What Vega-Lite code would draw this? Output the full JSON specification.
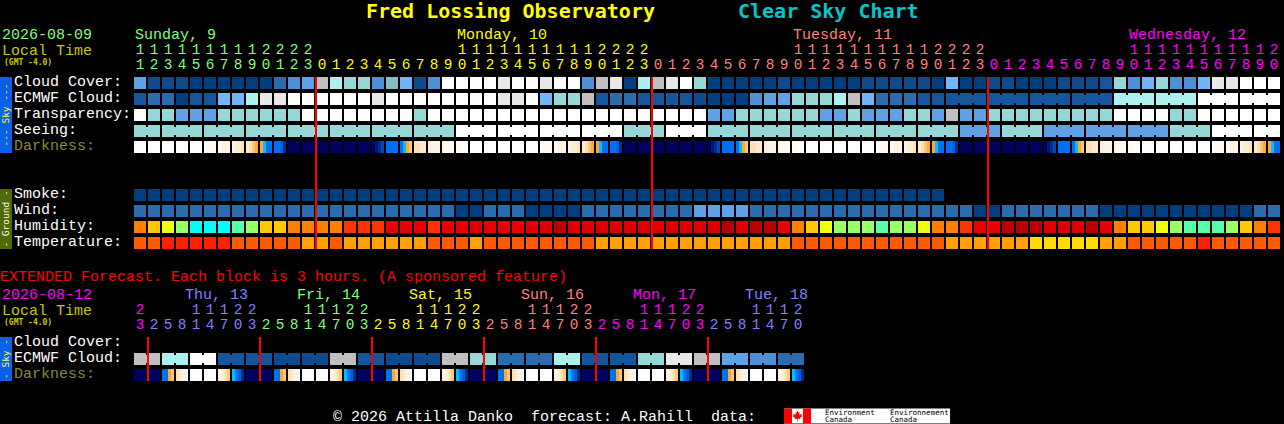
{
"$schema":"https://vega.github.io/schema/vega-lite/v6.json",
"width":1284,"height":424,"autosize":"none","padding":0,"background":"#000000",
"config":{"view":{"stroke":null},"axis":{"disable":true},"legend":{"disable":true},
"text":{"font":"Liberation Mono","fontSize":15,"baseline":"middle","align":"left"}},
"datasets":{
"cells":[
{"r":"cloud","c":0,"t":"c5"},{"r":"cloud","c":1,"t":"c1"},{"r":"cloud","c":2,"t":"c1"},{"r":"cloud","c":3,"t":"c1"},{"r":"cloud","c":4,"t":"c0"},{"r":"cloud","c":5,"t":"c0"},{"r":"cloud","c":6,"t":"c0"},{"r":"cloud","c":7,"t":"c0"},{"r":"cloud","c":8,"t":"c0"},{"r":"cloud","c":9,"t":"c0"},{"r":"cloud","c":10,"t":"c3"},{"r":"cloud","c":11,"t":"c4"},{"r":"cloud","c":12,"t":"c5"},{"r":"cloud","c":13,"t":"gray"},{"r":"cloud","c":14,"t":"aqua"},{"r":"cloud","c":15,"t":"teal"},{"r":"cloud","c":16,"t":"teal"},{"r":"cloud","c":17,"t":"c4"},{"r":"cloud","c":18,"t":"teald"},{"r":"cloud","c":19,"t":"c6"},{"r":"cloud","c":20,"t":"c1"},{"r":"cloud","c":21,"t":"c4"},{"r":"cloud","c":22,"t":"white"},{"r":"cloud","c":23,"t":"white"},{"r":"cloud","c":24,"t":"white"},{"r":"cloud","c":25,"t":"white"},{"r":"cloud","c":26,"t":"lgray"},{"r":"cloud","c":27,"t":"white"},{"r":"cloud","c":28,"t":"white"},{"r":"cloud","c":29,"t":"lgray"},{"r":"cloud","c":30,"t":"white"},{"r":"cloud","c":31,"t":"white"},{"r":"cloud","c":32,"t":"c4"},{"r":"cloud","c":33,"t":"gray"},{"r":"cloud","c":34,"t":"lgray"},{"r":"cloud","c":35,"t":"c0"},{"r":"cloud","c":36,"t":"aqua"},{"r":"cloud","c":37,"t":"gray"},{"r":"cloud","c":38,"t":"lgray"},{"r":"cloud","c":39,"t":"white"},{"r":"cloud","c":40,"t":"teal"},{"r":"cloud","c":41,"t":"c0"},{"r":"cloud","c":42,"t":"c0"},{"r":"cloud","c":43,"t":"c0"},{"r":"cloud","c":44,"t":"c0"},{"r":"cloud","c":45,"t":"c0"},{"r":"cloud","c":46,"t":"c1"},{"r":"cloud","c":47,"t":"c0"},{"r":"cloud","c":48,"t":"c0"},{"r":"cloud","c":49,"t":"c0"},{"r":"cloud","c":50,"t":"c0"},{"r":"cloud","c":51,"t":"c0"},{"r":"cloud","c":52,"t":"c1"},{"r":"cloud","c":53,"t":"c1"},{"r":"cloud","c":54,"t":"c1"},{"r":"cloud","c":55,"t":"c1"},{"r":"cloud","c":56,"t":"c1"},{"r":"cloud","c":57,"t":"c0"},{"r":"cloud","c":58,"t":"c6"},{"r":"cloud","c":59,"t":"c0"},{"r":"cloud","c":60,"t":"c0"},{"r":"cloud","c":61,"t":"c1"},{"r":"cloud","c":62,"t":"c1"},{"r":"cloud","c":63,"t":"c0"},{"r":"cloud","c":64,"t":"c0"},{"r":"cloud","c":65,"t":"c0"},{"r":"cloud","c":66,"t":"c1"},{"r":"cloud","c":67,"t":"c1"},{"r":"cloud","c":68,"t":"c1"},{"r":"cloud","c":69,"t":"c2"},{"r":"cloud","c":70,"t":"teal"},{"r":"cloud","c":71,"t":"c4"},{"r":"cloud","c":72,"t":"c6"},{"r":"cloud","c":73,"t":"teal"},{"r":"cloud","c":74,"t":"c4"},{"r":"cloud","c":75,"t":"c4"},{"r":"cloud","c":76,"t":"c6"},{"r":"cloud","c":77,"t":"lgray"},{"r":"cloud","c":78,"t":"lgray"},{"r":"cloud","c":79,"t":"white"},{"r":"cloud","c":80,"t":"white"},{"r":"cloud","c":81,"t":"white"},
{"r":"ecmwf","c":0,"t":"c2"},{"r":"ecmwf","c":1,"t":"c3"},{"r":"ecmwf","c":2,"t":"c3"},{"r":"ecmwf","c":3,"t":"c0"},{"r":"ecmwf","c":4,"t":"c2"},{"r":"ecmwf","c":5,"t":"c2"},{"r":"ecmwf","c":6,"t":"c6"},{"r":"ecmwf","c":7,"t":"c6"},{"r":"ecmwf","c":8,"t":"aqua"},{"r":"ecmwf","c":9,"t":"lgray"},{"r":"ecmwf","c":10,"t":"lgray"},{"r":"ecmwf","c":11,"t":"white"},{"r":"ecmwf","c":12,"t":"white"},{"r":"ecmwf","c":13,"t":"white"},{"r":"ecmwf","c":14,"t":"white"},{"r":"ecmwf","c":15,"t":"white"},{"r":"ecmwf","c":16,"t":"white"},{"r":"ecmwf","c":17,"t":"lgray"},{"r":"ecmwf","c":18,"t":"white"},{"r":"ecmwf","c":19,"t":"white"},{"r":"ecmwf","c":20,"t":"white"},{"r":"ecmwf","c":21,"t":"white"},{"r":"ecmwf","c":22,"t":"white"},{"r":"ecmwf","c":23,"t":"white"},{"r":"ecmwf","c":24,"t":"white"},{"r":"ecmwf","c":25,"t":"white"},{"r":"ecmwf","c":26,"t":"lgray"},{"r":"ecmwf","c":27,"t":"lgray"},{"r":"ecmwf","c":28,"t":"white"},{"r":"ecmwf","c":29,"t":"c6"},{"r":"ecmwf","c":30,"t":"teal"},{"r":"ecmwf","c":31,"t":"teal"},{"r":"ecmwf","c":32,"t":"gray"},{"r":"ecmwf","c":33,"t":"c2"},{"r":"ecmwf","c":34,"t":"c3"},{"r":"ecmwf","c":35,"t":"c3"},{"r":"ecmwf","c":36,"t":"c2"},{"r":"ecmwf","c":37,"t":"c2"},{"r":"ecmwf","c":38,"t":"c2"},{"r":"ecmwf","c":39,"t":"c2"},{"r":"ecmwf","c":40,"t":"c1"},{"r":"ecmwf","c":41,"t":"c0"},{"r":"ecmwf","c":42,"t":"c0"},{"r":"ecmwf","c":43,"t":"c0"},{"r":"ecmwf","c":44,"t":"c4"},{"r":"ecmwf","c":45,"t":"c5"},{"r":"ecmwf","c":46,"t":"c5"},{"r":"ecmwf","c":47,"t":"teal"},{"r":"ecmwf","c":48,"t":"teal"},{"r":"ecmwf","c":49,"t":"teal"},{"r":"ecmwf","c":50,"t":"aqua"},{"r":"ecmwf","c":51,"t":"gray"},{"r":"ecmwf","c":52,"t":"c6"},{"r":"ecmwf","c":53,"t":"c3"},{"r":"ecmwf","c":54,"t":"c3"},{"r":"ecmwf","c":55,"t":"c3"},{"r":"ecmwf","c":56,"t":"c2"},{"r":"ecmwf","c":57,"t":"c2"},{"r":"ecmwf","c":58,"t":"c2","j":1},{"r":"ecmwf","c":59,"t":"c2","j":1},{"r":"ecmwf","c":60,"t":"c2"},{"r":"ecmwf","c":61,"t":"c2","j":1},{"r":"ecmwf","c":62,"t":"c2","j":1},{"r":"ecmwf","c":63,"t":"c2"},{"r":"ecmwf","c":64,"t":"c2","j":1},{"r":"ecmwf","c":65,"t":"c2","j":1},{"r":"ecmwf","c":66,"t":"c2"},{"r":"ecmwf","c":67,"t":"c2","j":1},{"r":"ecmwf","c":68,"t":"c2","j":1},{"r":"ecmwf","c":69,"t":"c2"},{"r":"ecmwf","c":70,"t":"aqua","j":1},{"r":"ecmwf","c":71,"t":"aqua","j":1},{"r":"ecmwf","c":72,"t":"aqua"},{"r":"ecmwf","c":73,"t":"aqua","j":1},{"r":"ecmwf","c":74,"t":"aqua","j":1},{"r":"ecmwf","c":75,"t":"aqua"},{"r":"ecmwf","c":76,"t":"white","j":1},{"r":"ecmwf","c":77,"t":"white","j":1},{"r":"ecmwf","c":78,"t":"white"},{"r":"ecmwf","c":79,"t":"white","j":1},{"r":"ecmwf","c":80,"t":"white","j":1},{"r":"ecmwf","c":81,"t":"white"},
{"r":"transp","c":0,"t":"white"},{"r":"transp","c":1,"t":"teal"},{"r":"transp","c":2,"t":"teal"},{"r":"transp","c":3,"t":"c5"},{"r":"transp","c":4,"t":"c5"},{"r":"transp","c":5,"t":"c5"},{"r":"transp","c":6,"t":"teal"},{"r":"transp","c":7,"t":"teal"},{"r":"transp","c":8,"t":"teal"},{"r":"transp","c":9,"t":"teal"},{"r":"transp","c":10,"t":"teal"},{"r":"transp","c":11,"t":"teal"},{"r":"transp","c":12,"t":"white"},{"r":"transp","c":13,"t":"white"},{"r":"transp","c":14,"t":"white"},{"r":"transp","c":15,"t":"white"},{"r":"transp","c":16,"t":"white"},{"r":"transp","c":17,"t":"white"},{"r":"transp","c":18,"t":"white"},{"r":"transp","c":19,"t":"white"},{"r":"transp","c":20,"t":"teal"},{"r":"transp","c":21,"t":"white"},{"r":"transp","c":22,"t":"white"},{"r":"transp","c":23,"t":"white"},{"r":"transp","c":24,"t":"white"},{"r":"transp","c":25,"t":"white"},{"r":"transp","c":26,"t":"white"},{"r":"transp","c":27,"t":"white"},{"r":"transp","c":28,"t":"white"},{"r":"transp","c":29,"t":"white"},{"r":"transp","c":30,"t":"white"},{"r":"transp","c":31,"t":"white"},{"r":"transp","c":32,"t":"white"},{"r":"transp","c":33,"t":"white"},{"r":"transp","c":34,"t":"white"},{"r":"transp","c":35,"t":"white"},{"r":"transp","c":36,"t":"white"},{"r":"transp","c":37,"t":"white"},{"r":"transp","c":38,"t":"white"},{"r":"transp","c":39,"t":"white"},{"r":"transp","c":40,"t":"white"},{"r":"transp","c":41,"t":"c5"},{"r":"transp","c":42,"t":"c5"},{"r":"transp","c":43,"t":"teal"},{"r":"transp","c":44,"t":"teal"},{"r":"transp","c":45,"t":"teal"},{"r":"transp","c":46,"t":"teal"},{"r":"transp","c":47,"t":"teal"},{"r":"transp","c":48,"t":"teal"},{"r":"transp","c":49,"t":"c5"},{"r":"transp","c":50,"t":"c5"},{"r":"transp","c":51,"t":"teal"},{"r":"transp","c":52,"t":"c5"},{"r":"transp","c":53,"t":"c5"},{"r":"transp","c":54,"t":"c5"},{"r":"transp","c":55,"t":"teal"},{"r":"transp","c":56,"t":"teal"},{"r":"transp","c":57,"t":"c5"},{"r":"transp","c":58,"t":"gray"},{"r":"transp","c":59,"t":"c5"},{"r":"transp","c":60,"t":"c5"},{"r":"transp","c":61,"t":"teal"},{"r":"transp","c":62,"t":"teal"},{"r":"transp","c":63,"t":"teal"},{"r":"transp","c":64,"t":"teal"},{"r":"transp","c":65,"t":"teal"},{"r":"transp","c":66,"t":"teal"},{"r":"transp","c":67,"t":"teal"},{"r":"transp","c":68,"t":"teal"},{"r":"transp","c":69,"t":"teal"},{"r":"transp","c":70,"t":"white"},{"r":"transp","c":71,"t":"white"},{"r":"transp","c":72,"t":"white"},{"r":"transp","c":73,"t":"white"},{"r":"transp","c":74,"t":"teal"},{"r":"transp","c":75,"t":"teal"},{"r":"transp","c":76,"t":"white"},{"r":"transp","c":77,"t":"white"},{"r":"transp","c":78,"t":"white"},{"r":"transp","c":79,"t":"white"},{"r":"transp","c":80,"t":"white"},{"r":"transp","c":81,"t":"white"},
{"r":"seeing","c":0,"t":"teal","j":1},{"r":"seeing","c":1,"t":"teal"},{"r":"seeing","c":2,"t":"teal","j":1},{"r":"seeing","c":3,"t":"teal","j":1},{"r":"seeing","c":4,"t":"teal"},{"r":"seeing","c":5,"t":"teal","j":1},{"r":"seeing","c":6,"t":"teal","j":1},{"r":"seeing","c":7,"t":"teal"},{"r":"seeing","c":8,"t":"teal","j":1},{"r":"seeing","c":9,"t":"teal","j":1},{"r":"seeing","c":10,"t":"teal"},{"r":"seeing","c":11,"t":"teal","j":1},{"r":"seeing","c":12,"t":"teal","j":1},{"r":"seeing","c":13,"t":"teal"},{"r":"seeing","c":14,"t":"teal","j":1},{"r":"seeing","c":15,"t":"teal","j":1},{"r":"seeing","c":16,"t":"teal"},{"r":"seeing","c":17,"t":"teal","j":1},{"r":"seeing","c":18,"t":"teal","j":1},{"r":"seeing","c":19,"t":"teal"},{"r":"seeing","c":20,"t":"teal","j":1},{"r":"seeing","c":21,"t":"teal","j":1},{"r":"seeing","c":22,"t":"teal"},{"r":"seeing","c":23,"t":"white","j":1},{"r":"seeing","c":24,"t":"white","j":1},{"r":"seeing","c":25,"t":"white"},{"r":"seeing","c":26,"t":"white","j":1},{"r":"seeing","c":27,"t":"white","j":1},{"r":"seeing","c":28,"t":"white"},{"r":"seeing","c":29,"t":"white","j":1},{"r":"seeing","c":30,"t":"white","j":1},{"r":"seeing","c":31,"t":"white"},{"r":"seeing","c":32,"t":"white","j":1},{"r":"seeing","c":33,"t":"white","j":1},{"r":"seeing","c":34,"t":"white"},{"r":"seeing","c":35,"t":"teal","j":1},{"r":"seeing","c":36,"t":"teal","j":1},{"r":"seeing","c":37,"t":"teal"},{"r":"seeing","c":38,"t":"white","j":1},{"r":"seeing","c":39,"t":"white","j":1},{"r":"seeing","c":40,"t":"white"},{"r":"seeing","c":41,"t":"teal","j":1},{"r":"seeing","c":42,"t":"teal","j":1},{"r":"seeing","c":43,"t":"teal"},{"r":"seeing","c":44,"t":"teal","j":1},{"r":"seeing","c":45,"t":"teal","j":1},{"r":"seeing","c":46,"t":"teal"},{"r":"seeing","c":47,"t":"teal","j":1},{"r":"seeing","c":48,"t":"teal","j":1},{"r":"seeing","c":49,"t":"teal"},{"r":"seeing","c":50,"t":"teal","j":1},{"r":"seeing","c":51,"t":"teal","j":1},{"r":"seeing","c":52,"t":"teal"},{"r":"seeing","c":53,"t":"teal","j":1},{"r":"seeing","c":54,"t":"teal","j":1},{"r":"seeing","c":55,"t":"teal"},{"r":"seeing","c":56,"t":"teal","j":1},{"r":"seeing","c":57,"t":"teal","j":1},{"r":"seeing","c":58,"t":"teal"},{"r":"seeing","c":59,"t":"c5","j":1},{"r":"seeing","c":60,"t":"c5","j":1},{"r":"seeing","c":61,"t":"c5"},{"r":"seeing","c":62,"t":"teal","j":1},{"r":"seeing","c":63,"t":"teal","j":1},{"r":"seeing","c":64,"t":"teal"},{"r":"seeing","c":65,"t":"c5","j":1},{"r":"seeing","c":66,"t":"c5","j":1},{"r":"seeing","c":67,"t":"c5"},{"r":"seeing","c":68,"t":"c5","j":1},{"r":"seeing","c":69,"t":"c5","j":1},{"r":"seeing","c":70,"t":"c5"},{"r":"seeing","c":71,"t":"c5","j":1},{"r":"seeing","c":72,"t":"c5","j":1},{"r":"seeing","c":73,"t":"c5"},{"r":"seeing","c":74,"t":"teal","j":1},{"r":"seeing","c":75,"t":"teal","j":1},{"r":"seeing","c":76,"t":"teal"},{"r":"seeing","c":77,"t":"white","j":1},{"r":"seeing","c":78,"t":"white","j":1},{"r":"seeing","c":79,"t":"white"},{"r":"seeing","c":80,"t":"white","j":1},{"r":"seeing","c":81,"t":"white"},
{"r":"dark","c":0,"t":"white"},{"r":"dark","c":1,"t":"white"},{"r":"dark","c":2,"t":"white"},{"r":"dark","c":3,"t":"white"},{"r":"dark","c":4,"t":"white"},{"r":"dark","c":11,"t":"n2"},{"r":"dark","c":12,"t":"n2"},{"r":"dark","c":13,"t":"n2"},{"r":"dark","c":14,"t":"n2"},{"r":"dark","c":15,"t":"n2"},{"r":"dark","c":16,"t":"n2"},{"r":"dark","c":18,"t":"b1"},{"r":"dark","c":24,"t":"white"},{"r":"dark","c":25,"t":"white"},{"r":"dark","c":26,"t":"white"},{"r":"dark","c":27,"t":"white"},{"r":"dark","c":28,"t":"white"},{"r":"dark","c":35,"t":"n2"},{"r":"dark","c":36,"t":"n2"},{"r":"dark","c":37,"t":"n2"},{"r":"dark","c":38,"t":"n2"},{"r":"dark","c":39,"t":"n2"},{"r":"dark","c":40,"t":"n2"},{"r":"dark","c":42,"t":"b1"},{"r":"dark","c":48,"t":"white"},{"r":"dark","c":49,"t":"white"},{"r":"dark","c":50,"t":"white"},{"r":"dark","c":51,"t":"white"},{"r":"dark","c":52,"t":"white"},{"r":"dark","c":59,"t":"n2"},{"r":"dark","c":60,"t":"n2"},{"r":"dark","c":61,"t":"n2"},{"r":"dark","c":62,"t":"n2"},{"r":"dark","c":63,"t":"n2"},{"r":"dark","c":64,"t":"n2"},{"r":"dark","c":66,"t":"b1"},{"r":"dark","c":72,"t":"white"},{"r":"dark","c":73,"t":"white"},{"r":"dark","c":74,"t":"white"},{"r":"dark","c":75,"t":"white"},{"r":"dark","c":76,"t":"white"},
{"r":"smoke","c":0,"t":"c0"},{"r":"smoke","c":1,"t":"c0"},{"r":"smoke","c":2,"t":"c0"},{"r":"smoke","c":3,"t":"c0"},{"r":"smoke","c":4,"t":"c0"},{"r":"smoke","c":5,"t":"c0"},{"r":"smoke","c":6,"t":"c0"},{"r":"smoke","c":7,"t":"c0"},{"r":"smoke","c":8,"t":"c0"},{"r":"smoke","c":9,"t":"c0"},{"r":"smoke","c":10,"t":"c0"},{"r":"smoke","c":11,"t":"c0"},{"r":"smoke","c":12,"t":"c0"},{"r":"smoke","c":13,"t":"c0"},{"r":"smoke","c":14,"t":"c0"},{"r":"smoke","c":15,"t":"c0"},{"r":"smoke","c":16,"t":"c0"},{"r":"smoke","c":17,"t":"c0"},{"r":"smoke","c":18,"t":"c0"},{"r":"smoke","c":19,"t":"c0"},{"r":"smoke","c":20,"t":"c0"},{"r":"smoke","c":21,"t":"c0"},{"r":"smoke","c":22,"t":"c0"},{"r":"smoke","c":23,"t":"c0"},{"r":"smoke","c":24,"t":"c0"},{"r":"smoke","c":25,"t":"c0"},{"r":"smoke","c":26,"t":"c0"},{"r":"smoke","c":27,"t":"c0"},{"r":"smoke","c":28,"t":"c0"},{"r":"smoke","c":29,"t":"c0"},{"r":"smoke","c":30,"t":"c0"},{"r":"smoke","c":31,"t":"c0"},{"r":"smoke","c":32,"t":"c0"},{"r":"smoke","c":33,"t":"c0"},{"r":"smoke","c":34,"t":"c0"},{"r":"smoke","c":35,"t":"c0"},{"r":"smoke","c":36,"t":"c0"},{"r":"smoke","c":37,"t":"c0"},{"r":"smoke","c":38,"t":"c0"},{"r":"smoke","c":39,"t":"c0"},{"r":"smoke","c":40,"t":"c0"},{"r":"smoke","c":41,"t":"c0"},{"r":"smoke","c":42,"t":"c0"},{"r":"smoke","c":43,"t":"c0"},{"r":"smoke","c":44,"t":"c0"},{"r":"smoke","c":45,"t":"c0"},{"r":"smoke","c":46,"t":"c0"},{"r":"smoke","c":47,"t":"c0"},{"r":"smoke","c":48,"t":"c0"},{"r":"smoke","c":49,"t":"c0"},{"r":"smoke","c":50,"t":"c0"},{"r":"smoke","c":51,"t":"c0"},{"r":"smoke","c":52,"t":"c0"},{"r":"smoke","c":53,"t":"c0"},{"r":"smoke","c":54,"t":"c0"},{"r":"smoke","c":55,"t":"c0"},{"r":"smoke","c":56,"t":"c0"},{"r":"smoke","c":57,"t":"c0"},
{"r":"wind","c":0,"t":"c3"},{"r":"wind","c":1,"t":"c3"},{"r":"wind","c":2,"t":"c3"},{"r":"wind","c":3,"t":"c3"},{"r":"wind","c":4,"t":"c3"},{"r":"wind","c":5,"t":"c3"},{"r":"wind","c":6,"t":"c3"},{"r":"wind","c":7,"t":"c3"},{"r":"wind","c":8,"t":"c3"},{"r":"wind","c":9,"t":"c3"},{"r":"wind","c":10,"t":"c3"},{"r":"wind","c":11,"t":"c3"},{"r":"wind","c":12,"t":"c3"},{"r":"wind","c":13,"t":"c3"},{"r":"wind","c":14,"t":"c3"},{"r":"wind","c":15,"t":"c3"},{"r":"wind","c":16,"t":"c3"},{"r":"wind","c":17,"t":"c3"},{"r":"wind","c":18,"t":"c3"},{"r":"wind","c":19,"t":"c3"},{"r":"wind","c":20,"t":"c3"},{"r":"wind","c":21,"t":"c3"},{"r":"wind","c":22,"t":"c3"},{"r":"wind","c":23,"t":"c0"},{"r":"wind","c":24,"t":"c0"},{"r":"wind","c":25,"t":"c3"},{"r":"wind","c":26,"t":"c3"},{"r":"wind","c":27,"t":"c3"},{"r":"wind","c":28,"t":"c0"},{"r":"wind","c":29,"t":"c0"},{"r":"wind","c":30,"t":"c0"},{"r":"wind","c":31,"t":"c0"},{"r":"wind","c":32,"t":"c3"},{"r":"wind","c":33,"t":"c3"},{"r":"wind","c":34,"t":"c3"},{"r":"wind","c":35,"t":"c3"},{"r":"wind","c":36,"t":"c3"},{"r":"wind","c":37,"t":"c3"},{"r":"wind","c":38,"t":"c3"},{"r":"wind","c":39,"t":"c3"},{"r":"wind","c":40,"t":"c5"},{"r":"wind","c":41,"t":"c5"},{"r":"wind","c":42,"t":"c5"},{"r":"wind","c":43,"t":"c5"},{"r":"wind","c":44,"t":"c3"},{"r":"wind","c":45,"t":"c3"},{"r":"wind","c":46,"t":"c3"},{"r":"wind","c":47,"t":"c3"},{"r":"wind","c":48,"t":"c3"},{"r":"wind","c":49,"t":"c3"},{"r":"wind","c":50,"t":"c3"},{"r":"wind","c":51,"t":"c3"},{"r":"wind","c":52,"t":"c3"},{"r":"wind","c":53,"t":"c3"},{"r":"wind","c":54,"t":"c3"},{"r":"wind","c":55,"t":"c3"},{"r":"wind","c":56,"t":"c3"},{"r":"wind","c":57,"t":"c3"},{"r":"wind","c":58,"t":"c3"},{"r":"wind","c":59,"t":"c3"},{"r":"wind","c":60,"t":"c0"},{"r":"wind","c":61,"t":"c0"},{"r":"wind","c":62,"t":"c3"},{"r":"wind","c":63,"t":"c3"},{"r":"wind","c":64,"t":"c3"},{"r":"wind","c":65,"t":"c3"},{"r":"wind","c":66,"t":"c3"},{"r":"wind","c":67,"t":"c3"},{"r":"wind","c":68,"t":"c3"},{"r":"wind","c":69,"t":"c0"},{"r":"wind","c":70,"t":"c0"},{"r":"wind","c":71,"t":"c0"},{"r":"wind","c":72,"t":"c0"},{"r":"wind","c":73,"t":"c0"},{"r":"wind","c":74,"t":"c0"},{"r":"wind","c":75,"t":"c0"},{"r":"wind","c":76,"t":"c0"},{"r":"wind","c":77,"t":"c0"},{"r":"wind","c":78,"t":"c0"},{"r":"wind","c":79,"t":"c0"},{"r":"wind","c":80,"t":"c3"},{"r":"wind","c":81,"t":"c3"},
{"r":"humid","c":0,"t":"ho"},{"r":"humid","c":1,"t":"hy"},{"r":"humid","c":2,"t":"hl"},{"r":"humid","c":3,"t":"hg"},{"r":"humid","c":4,"t":"hc"},{"r":"humid","c":5,"t":"hc"},{"r":"humid","c":6,"t":"hc"},{"r":"humid","c":7,"t":"hm"},{"r":"humid","c":8,"t":"hg"},{"r":"humid","c":9,"t":"hy"},{"r":"humid","c":10,"t":"hy"},{"r":"humid","c":11,"t":"ho"},{"r":"humid","c":12,"t":"ho"},{"r":"humid","c":13,"t":"ho"},{"r":"humid","c":14,"t":"ho"},{"r":"humid","c":15,"t":"hr"},{"r":"humid","c":16,"t":"hr"},{"r":"humid","c":17,"t":"hr"},{"r":"humid","c":18,"t":"h8"},{"r":"humid","c":19,"t":"h8"},{"r":"humid","c":20,"t":"h8"},{"r":"humid","c":21,"t":"hr"},{"r":"humid","c":22,"t":"h8"},{"r":"humid","c":23,"t":"h8"},{"r":"humid","c":24,"t":"h9"},{"r":"humid","c":25,"t":"h8"},{"r":"humid","c":26,"t":"h8"},{"r":"humid","c":27,"t":"h8"},{"r":"humid","c":28,"t":"h9"},{"r":"humid","c":29,"t":"h9"},{"r":"humid","c":30,"t":"hb"},{"r":"humid","c":31,"t":"h9"},{"r":"humid","c":32,"t":"h9"},{"r":"humid","c":33,"t":"h9"},{"r":"humid","c":34,"t":"h9"},{"r":"humid","c":35,"t":"h9"},{"r":"humid","c":36,"t":"h9"},{"r":"humid","c":37,"t":"h9"},{"r":"humid","c":38,"t":"h9"},{"r":"humid","c":39,"t":"h9"},{"r":"humid","c":40,"t":"h9"},{"r":"humid","c":41,"t":"h9"},{"r":"humid","c":42,"t":"hb"},{"r":"humid","c":43,"t":"h9"},{"r":"humid","c":44,"t":"hb"},{"r":"humid","c":45,"t":"hb"},{"r":"humid","c":46,"t":"h8"},{"r":"humid","c":47,"t":"ho"},{"r":"humid","c":48,"t":"hy"},{"r":"humid","c":49,"t":"hl"},{"r":"humid","c":50,"t":"hg"},{"r":"humid","c":51,"t":"hg"},{"r":"humid","c":52,"t":"hg"},{"r":"humid","c":53,"t":"hm"},{"r":"humid","c":54,"t":"hg"},{"r":"humid","c":55,"t":"hg"},{"r":"humid","c":56,"t":"hl"},{"r":"humid","c":57,"t":"ho"},{"r":"humid","c":58,"t":"ho"},{"r":"humid","c":59,"t":"hr"},{"r":"humid","c":60,"t":"h8"},{"r":"humid","c":61,"t":"h8"},{"r":"humid","c":62,"t":"hb"},{"r":"humid","c":63,"t":"hb"},{"r":"humid","c":64,"t":"hb"},{"r":"humid","c":65,"t":"h9"},{"r":"humid","c":66,"t":"h9"},{"r":"humid","c":67,"t":"h9"},{"r":"humid","c":68,"t":"hb"},{"r":"humid","c":69,"t":"h8"},{"r":"humid","c":70,"t":"ho"},{"r":"humid","c":71,"t":"hy"},{"r":"humid","c":72,"t":"hy"},{"r":"humid","c":73,"t":"hl"},{"r":"humid","c":74,"t":"hg"},{"r":"humid","c":75,"t":"hm"},{"r":"humid","c":76,"t":"hm"},{"r":"humid","c":77,"t":"hm"},{"r":"humid","c":78,"t":"hg"},{"r":"humid","c":79,"t":"hy"},{"r":"humid","c":80,"t":"ho"},{"r":"humid","c":81,"t":"hr"},
{"r":"temp","c":0,"t":"t2"},{"r":"temp","c":1,"t":"t2"},{"r":"temp","c":2,"t":"t1"},{"r":"temp","c":3,"t":"t1"},{"r":"temp","c":4,"t":"t1"},{"r":"temp","c":5,"t":"t1"},{"r":"temp","c":6,"t":"t1"},{"r":"temp","c":7,"t":"t2"},{"r":"temp","c":8,"t":"t2"},{"r":"temp","c":9,"t":"t2"},{"r":"temp","c":10,"t":"t2"},{"r":"temp","c":11,"t":"t2"},{"r":"temp","c":12,"t":"t3"},{"r":"temp","c":13,"t":"t3"},{"r":"temp","c":14,"t":"t2"},{"r":"temp","c":15,"t":"t3"},{"r":"temp","c":16,"t":"t3"},{"r":"temp","c":17,"t":"t3"},{"r":"temp","c":18,"t":"t3"},{"r":"temp","c":19,"t":"t3"},{"r":"temp","c":20,"t":"t3"},{"r":"temp","c":21,"t":"t2"},{"r":"temp","c":22,"t":"t2"},{"r":"temp","c":23,"t":"t2"},{"r":"temp","c":24,"t":"t3"},{"r":"temp","c":25,"t":"t2"},{"r":"temp","c":26,"t":"t2"},{"r":"temp","c":27,"t":"t2"},{"r":"temp","c":28,"t":"t2"},{"r":"temp","c":29,"t":"t2"},{"r":"temp","c":30,"t":"t2"},{"r":"temp","c":31,"t":"t2"},{"r":"temp","c":32,"t":"t2"},{"r":"temp","c":33,"t":"t3"},{"r":"temp","c":34,"t":"t3"},{"r":"temp","c":35,"t":"t3"},{"r":"temp","c":36,"t":"t3"},{"r":"temp","c":37,"t":"t3"},{"r":"temp","c":38,"t":"t3"},{"r":"temp","c":39,"t":"t3"},{"r":"temp","c":40,"t":"t3"},{"r":"temp","c":41,"t":"t3"},{"r":"temp","c":42,"t":"t3"},{"r":"temp","c":43,"t":"t3"},{"r":"temp","c":44,"t":"t3"},{"r":"temp","c":45,"t":"t3"},{"r":"temp","c":46,"t":"t3"},{"r":"temp","c":47,"t":"t2"},{"r":"temp","c":48,"t":"t2"},{"r":"temp","c":49,"t":"t2"},{"r":"temp","c":50,"t":"t2"},{"r":"temp","c":51,"t":"t2"},{"r":"temp","c":52,"t":"t2"},{"r":"temp","c":53,"t":"t2"},{"r":"temp","c":54,"t":"t2"},{"r":"temp","c":55,"t":"t2"},{"r":"temp","c":56,"t":"t2"},{"r":"temp","c":57,"t":"t2"},{"r":"temp","c":58,"t":"t3"},{"r":"temp","c":59,"t":"t3"},{"r":"temp","c":60,"t":"t3"},{"r":"temp","c":61,"t":"t3"},{"r":"temp","c":62,"t":"t3"},{"r":"temp","c":63,"t":"t3"},{"r":"temp","c":64,"t":"t4"},{"r":"temp","c":65,"t":"t4"},{"r":"temp","c":66,"t":"t4"},{"r":"temp","c":67,"t":"t4"},{"r":"temp","c":68,"t":"t4"},{"r":"temp","c":69,"t":"t3"},{"r":"temp","c":70,"t":"t3"},{"r":"temp","c":71,"t":"t2"},{"r":"temp","c":72,"t":"t2"},{"r":"temp","c":73,"t":"t2"},{"r":"temp","c":74,"t":"t2"},{"r":"temp","c":75,"t":"t2"},{"r":"temp","c":76,"t":"t1"},{"r":"temp","c":77,"t":"t2"},{"r":"temp","c":78,"t":"t2"},{"r":"temp","c":79,"t":"t2"},{"r":"temp","c":80,"t":"t2"},{"r":"temp","c":81,"t":"t2"}
],
"xcells":[
{"r":"xecmwf","c":0,"t":"gray","j":1},{"r":"xecmwf","c":1,"t":"gray"},{"r":"xecmwf","c":2,"t":"aqua","j":1},{"r":"xecmwf","c":3,"t":"aqua"},{"r":"xecmwf","c":4,"t":"white","j":1},{"r":"xecmwf","c":5,"t":"white"},{"r":"xecmwf","c":6,"t":"c2","j":1},{"r":"xecmwf","c":7,"t":"c2"},{"r":"xecmwf","c":8,"t":"c2","j":1},{"r":"xecmwf","c":9,"t":"c2"},{"r":"xecmwf","c":10,"t":"c1","j":1},{"r":"xecmwf","c":11,"t":"c1"},{"r":"xecmwf","c":12,"t":"c1","j":1},{"r":"xecmwf","c":13,"t":"c1"},{"r":"xecmwf","c":14,"t":"gray","j":1},{"r":"xecmwf","c":15,"t":"gray"},{"r":"xecmwf","c":16,"t":"c2","j":1},{"r":"xecmwf","c":17,"t":"c2"},{"r":"xecmwf","c":18,"t":"c1","j":1},{"r":"xecmwf","c":19,"t":"c1"},{"r":"xecmwf","c":20,"t":"c1","j":1},{"r":"xecmwf","c":21,"t":"c1"},{"r":"xecmwf","c":22,"t":"gray","j":1},{"r":"xecmwf","c":23,"t":"gray"},{"r":"xecmwf","c":24,"t":"teal","j":1},{"r":"xecmwf","c":25,"t":"teal"},{"r":"xecmwf","c":26,"t":"c3","j":1},{"r":"xecmwf","c":27,"t":"c3"},{"r":"xecmwf","c":28,"t":"c3","j":1},{"r":"xecmwf","c":29,"t":"c3"},{"r":"xecmwf","c":30,"t":"aqua","j":1},{"r":"xecmwf","c":31,"t":"aqua"},{"r":"xecmwf","c":32,"t":"c2","j":1},{"r":"xecmwf","c":33,"t":"c2"},{"r":"xecmwf","c":34,"t":"c2","j":1},{"r":"xecmwf","c":35,"t":"c2"},{"r":"xecmwf","c":36,"t":"teal","j":1},{"r":"xecmwf","c":37,"t":"teal"},{"r":"xecmwf","c":38,"t":"lgray","j":1},{"r":"xecmwf","c":39,"t":"lgray"},{"r":"xecmwf","c":40,"t":"gray","j":1},{"r":"xecmwf","c":41,"t":"gray"},{"r":"xecmwf","c":42,"t":"c5","j":1},{"r":"xecmwf","c":43,"t":"c5"},{"r":"xecmwf","c":44,"t":"c4","j":1},{"r":"xecmwf","c":45,"t":"c4"},{"r":"xecmwf","c":46,"t":"c3","j":1},{"r":"xecmwf","c":47,"t":"c3"},
{"r":"xdark","c":0,"t":"n2"},{"r":"xdark","c":1,"t":"n2"},{"r":"xdark","c":4,"t":"white"},{"r":"xdark","c":5,"t":"white"},{"r":"xdark","c":8,"t":"n2"},{"r":"xdark","c":9,"t":"n2"},{"r":"xdark","c":12,"t":"white"},{"r":"xdark","c":13,"t":"white"},{"r":"xdark","c":16,"t":"n2"},{"r":"xdark","c":17,"t":"n2"},{"r":"xdark","c":20,"t":"white"},{"r":"xdark","c":21,"t":"white"},{"r":"xdark","c":24,"t":"n2"},{"r":"xdark","c":25,"t":"n2"},{"r":"xdark","c":28,"t":"white"},{"r":"xdark","c":29,"t":"white"},{"r":"xdark","c":32,"t":"n2"},{"r":"xdark","c":33,"t":"n2"},{"r":"xdark","c":36,"t":"white"},{"r":"xdark","c":37,"t":"white"},{"r":"xdark","c":40,"t":"n2"},{"r":"xdark","c":41,"t":"n2"},{"r":"xdark","c":44,"t":"white"},{"r":"xdark","c":45,"t":"white"}
],
"stripes":[
{"r":"dark","c":5,"p":0,"t":"white"},{"r":"dark","c":5,"p":1,"t":"p1"},{"r":"dark","c":5,"p":2,"t":"p1"},{"r":"dark","c":5,"p":3,"t":"p1"},{"r":"dark","c":6,"p":0,"t":"p1"},{"r":"dark","c":6,"p":1,"t":"p2"},{"r":"dark","c":6,"p":2,"t":"p2"},{"r":"dark","c":6,"p":3,"t":"p2"},{"r":"dark","c":7,"p":0,"t":"p2"},{"r":"dark","c":7,"p":1,"t":"p3"},{"r":"dark","c":7,"p":2,"t":"p3"},{"r":"dark","c":7,"p":3,"t":"p4"},{"r":"dark","c":8,"p":0,"t":"p3"},{"r":"dark","c":8,"p":1,"t":"p4"},{"r":"dark","c":8,"p":2,"t":"o1"},{"r":"dark","c":8,"p":3,"t":"o2"},{"r":"dark","c":9,"p":0,"t":"o2"},{"r":"dark","c":9,"p":1,"t":"sky"},{"r":"dark","c":9,"p":2,"t":"b1"},{"r":"dark","c":9,"p":3,"t":"b1"},{"r":"dark","c":10,"p":0,"t":"b1"},{"r":"dark","c":10,"p":1,"t":"b1"},{"r":"dark","c":10,"p":2,"t":"b2"},{"r":"dark","c":10,"p":3,"t":"b4"},{"r":"dark","c":17,"p":0,"t":"n2"},{"r":"dark","c":17,"p":1,"t":"n1"},{"r":"dark","c":17,"p":2,"t":"b4"},{"r":"dark","c":17,"p":3,"t":"b3"},{"r":"dark","c":19,"p":0,"t":"b1"},{"r":"dark","c":19,"p":1,"t":"sky"},{"r":"dark","c":19,"p":2,"t":"o2"},{"r":"dark","c":19,"p":3,"t":"o1"},{"r":"dark","c":20,"p":0,"t":"p4"},{"r":"dark","c":20,"p":1,"t":"p4"},{"r":"dark","c":20,"p":2,"t":"p3"},{"r":"dark","c":20,"p":3,"t":"p3"},{"r":"dark","c":21,"p":0,"t":"p3"},{"r":"dark","c":21,"p":1,"t":"p2"},{"r":"dark","c":21,"p":2,"t":"p2"},{"r":"dark","c":21,"p":3,"t":"p2"},{"r":"dark","c":22,"p":0,"t":"p2"},{"r":"dark","c":22,"p":1,"t":"p1"},{"r":"dark","c":22,"p":2,"t":"p1"},{"r":"dark","c":22,"p":3,"t":"p1"},{"r":"dark","c":23,"p":0,"t":"p1"},{"r":"dark","c":23,"p":1,"t":"p1"},{"r":"dark","c":23,"p":2,"t":"white"},{"r":"dark","c":23,"p":3,"t":"white"},
{"r":"dark","c":29,"p":0,"t":"white"},{"r":"dark","c":29,"p":1,"t":"p1"},{"r":"dark","c":29,"p":2,"t":"p1"},{"r":"dark","c":29,"p":3,"t":"p1"},{"r":"dark","c":30,"p":0,"t":"p1"},{"r":"dark","c":30,"p":1,"t":"p2"},{"r":"dark","c":30,"p":2,"t":"p2"},{"r":"dark","c":30,"p":3,"t":"p2"},{"r":"dark","c":31,"p":0,"t":"p2"},{"r":"dark","c":31,"p":1,"t":"p3"},{"r":"dark","c":31,"p":2,"t":"p3"},{"r":"dark","c":31,"p":3,"t":"p4"},{"r":"dark","c":32,"p":0,"t":"p3"},{"r":"dark","c":32,"p":1,"t":"p4"},{"r":"dark","c":32,"p":2,"t":"o1"},{"r":"dark","c":32,"p":3,"t":"o2"},{"r":"dark","c":33,"p":0,"t":"o2"},{"r":"dark","c":33,"p":1,"t":"sky"},{"r":"dark","c":33,"p":2,"t":"b1"},{"r":"dark","c":33,"p":3,"t":"b1"},{"r":"dark","c":34,"p":0,"t":"b1"},{"r":"dark","c":34,"p":1,"t":"b1"},{"r":"dark","c":34,"p":2,"t":"b2"},{"r":"dark","c":34,"p":3,"t":"b4"},{"r":"dark","c":41,"p":0,"t":"n2"},{"r":"dark","c":41,"p":1,"t":"n1"},{"r":"dark","c":41,"p":2,"t":"b4"},{"r":"dark","c":41,"p":3,"t":"b3"},{"r":"dark","c":43,"p":0,"t":"b1"},{"r":"dark","c":43,"p":1,"t":"sky"},{"r":"dark","c":43,"p":2,"t":"o2"},{"r":"dark","c":43,"p":3,"t":"o1"},{"r":"dark","c":44,"p":0,"t":"p4"},{"r":"dark","c":44,"p":1,"t":"p4"},{"r":"dark","c":44,"p":2,"t":"p3"},{"r":"dark","c":44,"p":3,"t":"p3"},{"r":"dark","c":45,"p":0,"t":"p3"},{"r":"dark","c":45,"p":1,"t":"p2"},{"r":"dark","c":45,"p":2,"t":"p2"},{"r":"dark","c":45,"p":3,"t":"p2"},{"r":"dark","c":46,"p":0,"t":"p2"},{"r":"dark","c":46,"p":1,"t":"p1"},{"r":"dark","c":46,"p":2,"t":"p1"},{"r":"dark","c":46,"p":3,"t":"p1"},{"r":"dark","c":47,"p":0,"t":"p1"},{"r":"dark","c":47,"p":1,"t":"p1"},{"r":"dark","c":47,"p":2,"t":"white"},{"r":"dark","c":47,"p":3,"t":"white"},
{"r":"dark","c":53,"p":0,"t":"white"},{"r":"dark","c":53,"p":1,"t":"p1"},{"r":"dark","c":53,"p":2,"t":"p1"},{"r":"dark","c":53,"p":3,"t":"p1"},{"r":"dark","c":54,"p":0,"t":"p1"},{"r":"dark","c":54,"p":1,"t":"p2"},{"r":"dark","c":54,"p":2,"t":"p2"},{"r":"dark","c":54,"p":3,"t":"p2"},{"r":"dark","c":55,"p":0,"t":"p2"},{"r":"dark","c":55,"p":1,"t":"p3"},{"r":"dark","c":55,"p":2,"t":"p3"},{"r":"dark","c":55,"p":3,"t":"p4"},{"r":"dark","c":56,"p":0,"t":"p3"},{"r":"dark","c":56,"p":1,"t":"p4"},{"r":"dark","c":56,"p":2,"t":"o1"},{"r":"dark","c":56,"p":3,"t":"o2"},{"r":"dark","c":57,"p":0,"t":"o2"},{"r":"dark","c":57,"p":1,"t":"sky"},{"r":"dark","c":57,"p":2,"t":"b1"},{"r":"dark","c":57,"p":3,"t":"b1"},{"r":"dark","c":58,"p":0,"t":"b1"},{"r":"dark","c":58,"p":1,"t":"b1"},{"r":"dark","c":58,"p":2,"t":"b2"},{"r":"dark","c":58,"p":3,"t":"b4"},{"r":"dark","c":65,"p":0,"t":"n2"},{"r":"dark","c":65,"p":1,"t":"n1"},{"r":"dark","c":65,"p":2,"t":"b4"},{"r":"dark","c":65,"p":3,"t":"b3"},{"r":"dark","c":67,"p":0,"t":"b1"},{"r":"dark","c":67,"p":1,"t":"sky"},{"r":"dark","c":67,"p":2,"t":"o2"},{"r":"dark","c":67,"p":3,"t":"o1"},{"r":"dark","c":68,"p":0,"t":"p4"},{"r":"dark","c":68,"p":1,"t":"p4"},{"r":"dark","c":68,"p":2,"t":"p3"},{"r":"dark","c":68,"p":3,"t":"p3"},{"r":"dark","c":69,"p":0,"t":"p3"},{"r":"dark","c":69,"p":1,"t":"p2"},{"r":"dark","c":69,"p":2,"t":"p2"},{"r":"dark","c":69,"p":3,"t":"p2"},{"r":"dark","c":70,"p":0,"t":"p2"},{"r":"dark","c":70,"p":1,"t":"p1"},{"r":"dark","c":70,"p":2,"t":"p1"},{"r":"dark","c":70,"p":3,"t":"p1"},{"r":"dark","c":71,"p":0,"t":"p1"},{"r":"dark","c":71,"p":1,"t":"p1"},{"r":"dark","c":71,"p":2,"t":"white"},{"r":"dark","c":71,"p":3,"t":"white"},
{"r":"dark","c":77,"p":0,"t":"white"},{"r":"dark","c":77,"p":1,"t":"p1"},{"r":"dark","c":77,"p":2,"t":"p1"},{"r":"dark","c":77,"p":3,"t":"p1"},{"r":"dark","c":78,"p":0,"t":"p1"},{"r":"dark","c":78,"p":1,"t":"p2"},{"r":"dark","c":78,"p":2,"t":"p2"},{"r":"dark","c":78,"p":3,"t":"p2"},{"r":"dark","c":79,"p":0,"t":"p2"},{"r":"dark","c":79,"p":1,"t":"p3"},{"r":"dark","c":79,"p":2,"t":"p3"},{"r":"dark","c":79,"p":3,"t":"p4"},{"r":"dark","c":80,"p":0,"t":"p3"},{"r":"dark","c":80,"p":1,"t":"p4"},{"r":"dark","c":80,"p":2,"t":"o1"},{"r":"dark","c":80,"p":3,"t":"o2"},{"r":"dark","c":81,"p":0,"t":"o2"},{"r":"dark","c":81,"p":1,"t":"sky"},{"r":"dark","c":81,"p":2,"t":"b1"},{"r":"dark","c":81,"p":3,"t":"b1"}
],
"xstripes":[
{"r":"xdark","c":2,"p":0,"t":"b1"},{"r":"xdark","c":2,"p":1,"t":"b1"},{"r":"xdark","c":2,"p":2,"t":"o2"},{"r":"xdark","c":2,"p":3,"t":"o1"},{"r":"xdark","c":3,"p":0,"t":"p4"},{"r":"xdark","c":3,"p":1,"t":"p3"},{"r":"xdark","c":3,"p":2,"t":"p2"},{"r":"xdark","c":3,"p":3,"t":"p1"},{"r":"xdark","c":6,"p":0,"t":"p2"},{"r":"xdark","c":6,"p":1,"t":"p3"},{"r":"xdark","c":6,"p":2,"t":"p4"},{"r":"xdark","c":6,"p":3,"t":"o1"},{"r":"xdark","c":7,"p":0,"t":"sky"},{"r":"xdark","c":7,"p":1,"t":"b1"},{"r":"xdark","c":7,"p":2,"t":"b2"},{"r":"xdark","c":7,"p":3,"t":"b4"},
{"r":"xdark","c":10,"p":0,"t":"b1"},{"r":"xdark","c":10,"p":1,"t":"b1"},{"r":"xdark","c":10,"p":2,"t":"o2"},{"r":"xdark","c":10,"p":3,"t":"o1"},{"r":"xdark","c":11,"p":0,"t":"p4"},{"r":"xdark","c":11,"p":1,"t":"p3"},{"r":"xdark","c":11,"p":2,"t":"p2"},{"r":"xdark","c":11,"p":3,"t":"p1"},{"r":"xdark","c":14,"p":0,"t":"p2"},{"r":"xdark","c":14,"p":1,"t":"p3"},{"r":"xdark","c":14,"p":2,"t":"p4"},{"r":"xdark","c":14,"p":3,"t":"o1"},{"r":"xdark","c":15,"p":0,"t":"sky"},{"r":"xdark","c":15,"p":1,"t":"b1"},{"r":"xdark","c":15,"p":2,"t":"b2"},{"r":"xdark","c":15,"p":3,"t":"b4"},
{"r":"xdark","c":18,"p":0,"t":"b1"},{"r":"xdark","c":18,"p":1,"t":"b1"},{"r":"xdark","c":18,"p":2,"t":"o2"},{"r":"xdark","c":18,"p":3,"t":"o1"},{"r":"xdark","c":19,"p":0,"t":"p4"},{"r":"xdark","c":19,"p":1,"t":"p3"},{"r":"xdark","c":19,"p":2,"t":"p2"},{"r":"xdark","c":19,"p":3,"t":"p1"},{"r":"xdark","c":22,"p":0,"t":"p2"},{"r":"xdark","c":22,"p":1,"t":"p3"},{"r":"xdark","c":22,"p":2,"t":"p4"},{"r":"xdark","c":22,"p":3,"t":"o1"},{"r":"xdark","c":23,"p":0,"t":"sky"},{"r":"xdark","c":23,"p":1,"t":"b1"},{"r":"xdark","c":23,"p":2,"t":"b2"},{"r":"xdark","c":23,"p":3,"t":"b4"},
{"r":"xdark","c":26,"p":0,"t":"b1"},{"r":"xdark","c":26,"p":1,"t":"b1"},{"r":"xdark","c":26,"p":2,"t":"o2"},{"r":"xdark","c":26,"p":3,"t":"o1"},{"r":"xdark","c":27,"p":0,"t":"p4"},{"r":"xdark","c":27,"p":1,"t":"p3"},{"r":"xdark","c":27,"p":2,"t":"p2"},{"r":"xdark","c":27,"p":3,"t":"p1"},{"r":"xdark","c":30,"p":0,"t":"p2"},{"r":"xdark","c":30,"p":1,"t":"p3"},{"r":"xdark","c":30,"p":2,"t":"p4"},{"r":"xdark","c":30,"p":3,"t":"o1"},{"r":"xdark","c":31,"p":0,"t":"sky"},{"r":"xdark","c":31,"p":1,"t":"b1"},{"r":"xdark","c":31,"p":2,"t":"b2"},{"r":"xdark","c":31,"p":3,"t":"b4"},
{"r":"xdark","c":34,"p":0,"t":"b1"},{"r":"xdark","c":34,"p":1,"t":"b1"},{"r":"xdark","c":34,"p":2,"t":"o2"},{"r":"xdark","c":34,"p":3,"t":"o1"},{"r":"xdark","c":35,"p":0,"t":"p4"},{"r":"xdark","c":35,"p":1,"t":"p3"},{"r":"xdark","c":35,"p":2,"t":"p2"},{"r":"xdark","c":35,"p":3,"t":"p1"},{"r":"xdark","c":38,"p":0,"t":"p2"},{"r":"xdark","c":38,"p":1,"t":"p3"},{"r":"xdark","c":38,"p":2,"t":"p4"},{"r":"xdark","c":38,"p":3,"t":"o1"},{"r":"xdark","c":39,"p":0,"t":"sky"},{"r":"xdark","c":39,"p":1,"t":"b1"},{"r":"xdark","c":39,"p":2,"t":"b2"},{"r":"xdark","c":39,"p":3,"t":"b4"},
{"r":"xdark","c":42,"p":0,"t":"b1"},{"r":"xdark","c":42,"p":1,"t":"b1"},{"r":"xdark","c":42,"p":2,"t":"o2"},{"r":"xdark","c":42,"p":3,"t":"o1"},{"r":"xdark","c":43,"p":0,"t":"p4"},{"r":"xdark","c":43,"p":1,"t":"p3"},{"r":"xdark","c":43,"p":2,"t":"p2"},{"r":"xdark","c":43,"p":3,"t":"p1"},{"r":"xdark","c":46,"p":0,"t":"p2"},{"r":"xdark","c":46,"p":1,"t":"p3"},{"r":"xdark","c":46,"p":2,"t":"p4"},{"r":"xdark","c":46,"p":3,"t":"o1"},{"r":"xdark","c":47,"p":0,"t":"sky"},{"r":"xdark","c":47,"p":1,"t":"b1"},{"r":"xdark","c":47,"p":2,"t":"b2"},{"r":"xdark","c":47,"p":3,"t":"b4"}
],
"hours":[
{"c":0,"tens":"1","units":"1","t":"Sun"},{"c":1,"tens":"1","units":"2","t":"Sun"},{"c":2,"tens":"1","units":"3","t":"Sun"},{"c":3,"tens":"1","units":"4","t":"Sun"},{"c":4,"tens":"1","units":"5","t":"Sun"},{"c":5,"tens":"1","units":"6","t":"Sun"},{"c":6,"tens":"1","units":"7","t":"Sun"},{"c":7,"tens":"1","units":"8","t":"Sun"},{"c":8,"tens":"1","units":"9","t":"Sun"},{"c":9,"tens":"2","units":"0","t":"Sun"},{"c":10,"tens":"2","units":"1","t":"Sun"},{"c":11,"tens":"2","units":"2","t":"Sun"},{"c":12,"tens":"2","units":"3","t":"Sun"},
{"c":13,"tens":"","units":"0","t":"Mon"},{"c":14,"tens":"","units":"1","t":"Mon"},{"c":15,"tens":"","units":"2","t":"Mon"},{"c":16,"tens":"","units":"3","t":"Mon"},{"c":17,"tens":"","units":"4","t":"Mon"},{"c":18,"tens":"","units":"5","t":"Mon"},{"c":19,"tens":"","units":"6","t":"Mon"},{"c":20,"tens":"","units":"7","t":"Mon"},{"c":21,"tens":"","units":"8","t":"Mon"},{"c":22,"tens":"","units":"9","t":"Mon"},{"c":23,"tens":"1","units":"0","t":"Mon"},{"c":24,"tens":"1","units":"1","t":"Mon"},{"c":25,"tens":"1","units":"2","t":"Mon"},{"c":26,"tens":"1","units":"3","t":"Mon"},{"c":27,"tens":"1","units":"4","t":"Mon"},{"c":28,"tens":"1","units":"5","t":"Mon"},{"c":29,"tens":"1","units":"6","t":"Mon"},{"c":30,"tens":"1","units":"7","t":"Mon"},{"c":31,"tens":"1","units":"8","t":"Mon"},{"c":32,"tens":"1","units":"9","t":"Mon"},{"c":33,"tens":"2","units":"0","t":"Mon"},{"c":34,"tens":"2","units":"1","t":"Mon"},{"c":35,"tens":"2","units":"2","t":"Mon"},{"c":36,"tens":"2","units":"3","t":"Mon"},
{"c":37,"tens":"","units":"0","t":"Tue"},{"c":38,"tens":"","units":"1","t":"Tue"},{"c":39,"tens":"","units":"2","t":"Tue"},{"c":40,"tens":"","units":"3","t":"Tue"},{"c":41,"tens":"","units":"4","t":"Tue"},{"c":42,"tens":"","units":"5","t":"Tue"},{"c":43,"tens":"","units":"6","t":"Tue"},{"c":44,"tens":"","units":"7","t":"Tue"},{"c":45,"tens":"","units":"8","t":"Tue"},{"c":46,"tens":"","units":"9","t":"Tue"},{"c":47,"tens":"1","units":"0","t":"Tue"},{"c":48,"tens":"1","units":"1","t":"Tue"},{"c":49,"tens":"1","units":"2","t":"Tue"},{"c":50,"tens":"1","units":"3","t":"Tue"},{"c":51,"tens":"1","units":"4","t":"Tue"},{"c":52,"tens":"1","units":"5","t":"Tue"},{"c":53,"tens":"1","units":"6","t":"Tue"},{"c":54,"tens":"1","units":"7","t":"Tue"},{"c":55,"tens":"1","units":"8","t":"Tue"},{"c":56,"tens":"1","units":"9","t":"Tue"},{"c":57,"tens":"2","units":"0","t":"Tue"},{"c":58,"tens":"2","units":"1","t":"Tue"},{"c":59,"tens":"2","units":"2","t":"Tue"},{"c":60,"tens":"2","units":"3","t":"Tue"},
{"c":61,"tens":"","units":"0","t":"Wed"},{"c":62,"tens":"","units":"1","t":"Wed"},{"c":63,"tens":"","units":"2","t":"Wed"},{"c":64,"tens":"","units":"3","t":"Wed"},{"c":65,"tens":"","units":"4","t":"Wed"},{"c":66,"tens":"","units":"5","t":"Wed"},{"c":67,"tens":"","units":"6","t":"Wed"},{"c":68,"tens":"","units":"7","t":"Wed"},{"c":69,"tens":"","units":"8","t":"Wed"},{"c":70,"tens":"","units":"9","t":"Wed"},{"c":71,"tens":"1","units":"0","t":"Wed"},{"c":72,"tens":"1","units":"1","t":"Wed"},{"c":73,"tens":"1","units":"2","t":"Wed"},{"c":74,"tens":"1","units":"3","t":"Wed"},{"c":75,"tens":"1","units":"4","t":"Wed"},{"c":76,"tens":"1","units":"5","t":"Wed"},{"c":77,"tens":"1","units":"6","t":"Wed"},{"c":78,"tens":"1","units":"7","t":"Wed"},{"c":79,"tens":"1","units":"8","t":"Wed"},{"c":80,"tens":"1","units":"9","t":"Wed"},{"c":81,"tens":"2","units":"0","t":"Wed"}
],
"xhours":[
{"c":0,"tens":"2","units":"3","t":"Wed"},{"c":1,"tens":"","units":"2","t":"Thu"},{"c":2,"tens":"","units":"5","t":"Thu"},{"c":3,"tens":"","units":"8","t":"Thu"},{"c":4,"tens":"1","units":"1","t":"Thu"},{"c":5,"tens":"1","units":"4","t":"Thu"},{"c":6,"tens":"1","units":"7","t":"Thu"},{"c":7,"tens":"2","units":"0","t":"Thu"},{"c":8,"tens":"2","units":"3","t":"Thu"},
{"c":9,"tens":"","units":"2","t":"Fri"},{"c":10,"tens":"","units":"5","t":"Fri"},{"c":11,"tens":"","units":"8","t":"Fri"},{"c":12,"tens":"1","units":"1","t":"Fri"},{"c":13,"tens":"1","units":"4","t":"Fri"},{"c":14,"tens":"1","units":"7","t":"Fri"},{"c":15,"tens":"2","units":"0","t":"Fri"},{"c":16,"tens":"2","units":"3","t":"Fri"},
{"c":17,"tens":"","units":"2","t":"Sat"},{"c":18,"tens":"","units":"5","t":"Sat"},{"c":19,"tens":"","units":"8","t":"Sat"},{"c":20,"tens":"1","units":"1","t":"Sat"},{"c":21,"tens":"1","units":"4","t":"Sat"},{"c":22,"tens":"1","units":"7","t":"Sat"},{"c":23,"tens":"2","units":"0","t":"Sat"},{"c":24,"tens":"2","units":"3","t":"Sat"},
{"c":25,"tens":"","units":"2","t":"Tue"},{"c":26,"tens":"","units":"5","t":"Tue"},{"c":27,"tens":"","units":"8","t":"Tue"},{"c":28,"tens":"1","units":"1","t":"Tue"},{"c":29,"tens":"1","units":"4","t":"Tue"},{"c":30,"tens":"1","units":"7","t":"Tue"},{"c":31,"tens":"2","units":"0","t":"Tue"},{"c":32,"tens":"2","units":"3","t":"Tue"},
{"c":33,"tens":"","units":"2","t":"Wed"},{"c":34,"tens":"","units":"5","t":"Wed"},{"c":35,"tens":"","units":"8","t":"Wed"},{"c":36,"tens":"1","units":"1","t":"Wed"},{"c":37,"tens":"1","units":"4","t":"Wed"},{"c":38,"tens":"1","units":"7","t":"Wed"},{"c":39,"tens":"2","units":"0","t":"Wed"},{"c":40,"tens":"2","units":"3","t":"Wed"},
{"c":41,"tens":"","units":"2","t":"Thu"},{"c":42,"tens":"","units":"5","t":"Thu"},{"c":43,"tens":"","units":"8","t":"Thu"},{"c":44,"tens":"1","units":"1","t":"Thu"},{"c":45,"tens":"1","units":"4","t":"Thu"},{"c":46,"tens":"1","units":"7","t":"Thu"},{"c":47,"tens":"2","units":"0","t":"Thu"}
]
},
"encoding":{
"x":{"field":"c","type":"ordinal","scale":{"type":"band","domain":[-9,-8,-7,-6,-5,-4,-3,-2,-1,0,1,2,3,4,5,6,7,8,9,10,11,12,13,14,15,16,17,18,19,20,21,22,23,24,25,26,27,28,29,30,31,32,33,34,35,36,37,38,39,40,41,42,43,44,45,46,47,48,49,50,51,52,53,54,55,56,57,58,59,60,61,62,63,64,65,66,67,68,69,70,71,72,73,74,75,76,77,78,79,80,81],"range":[0,1288],"paddingInner":0.142857,"paddingOuter":0.571429}},
"y":{"field":"r","type":"ordinal","scale":{"type":"band","domain":["title","date","tens","units","cloud","ecmwf","transp","seeing","dark","g1","g2","smoke","wind","humid","temp","g3","note","xdate","xtens","xunits","xcloud","xecmwf","xdark","g4","g5","foot"],"range":[0,438],"paddingInner":0.25,"paddingOuter":0.8125}},
"color":{"field":"t","type":"nominal","scale":{"domain":["c0","c1","c2","c3","c4","c5","c6","teal","teald","aqua","gray","lgray","white","ho","hy","hl","hg","hm","hc","hr","h8","h9","hb","t1","t2","t3","t4","p1","p2","p3","p4","o1","o2","sky","b1","b2","b3","b4","n1","n2","Sun","Mon","Tue","Wed","Thu","Fri","Sat","local","dim","line","cyan","skybar","groundbar","skytext","ink"],
"range":["#003f7f","#0f4a8c","#14559b","#2b6cae","#4f8fd6","#60a0e4","#72b4f8","#96d8d8","#7fbfbf","#aef0f0","#c0c0c0","#e8e8e8","#ffffff","#ff8000","#ffc800","#eeff10","#99ff66","#55ffaa","#00ffff","#ff3300","#e80000","#de0000","#b80000","#ff2000","#ff5a00","#ffa000","#ffdc00","#fffaf2","#fff4e4","#ffecd0","#ffe0b4","#ffc878","#ffa830","#00c0ff","#0070f0","#0060e0","#0048c0","#002c90","#001870","#000060","#80ff80","#ffff00","#ff8080","#ff00ff","#8080ff","#80ff80","#ffff00","#c8c800","#8a8a33","#ff0000","#00c8c8","#0a60e8","#4e6a00","#ffff40","#000000"]}}
},
"layer":[
{"data":{"name":"cells"},"mark":{"type":"rect"}},
{"data":{"name":"cells"},"transform":[{"filter":"datum.j"}],"mark":{"type":"rect","width":4,"height":8,"xOffset":7}},
{"data":{"name":"stripes"},"mark":{"type":"rect"},"encoding":{"xOffset":{"field":"p","type":"ordinal","scale":{"paddingInner":0,"paddingOuter":0}}}},
{"data":{"name":"xcells"},"mark":{"type":"rect","yOffset":4}},
{"data":{"name":"xcells"},"transform":[{"filter":"datum.j"}],"mark":{"type":"rect","width":4,"height":8,"xOffset":7,"yOffset":4}},
{"data":{"name":"xstripes"},"mark":{"type":"rect","yOffset":4},"encoding":{"xOffset":{"field":"p","type":"ordinal","scale":{"paddingInner":0,"paddingOuter":0}}}},
{"data":{"values":[{"c":13,"r":"cloud","r2":"temp","t":"line"},{"c":37,"r":"cloud","r2":"temp","t":"line"},{"c":61,"r":"cloud","r2":"temp","t":"line"}]},
"mark":{"type":"rule","strokeWidth":2,"xOffset":-6,"yOffset":-6,"y2Offset":6},"encoding":{"y2":{"field":"r2"}}},
{"data":{"values":[{"c":1,"r":"xcloud","r2":"xdark","t":"line"},{"c":9,"r":"xcloud","r2":"xdark","t":"line"},{"c":17,"r":"xcloud","r2":"xdark","t":"line"},{"c":25,"r":"xcloud","r2":"xdark","t":"line"},{"c":33,"r":"xcloud","r2":"xdark","t":"line"},{"c":41,"r":"xcloud","r2":"xdark","t":"line"}]},
"mark":{"type":"rule","strokeWidth":2,"xOffset":-6,"yOffset":-2,"y2Offset":10},"encoding":{"y2":{"field":"r2"}}},
{"data":{"values":[{"c":-9,"r":"cloud","r2":"dark","t":"skybar"},{"c":-9,"r":"smoke","r2":"temp","t":"groundbar"}]},
"mark":{"type":"rule","strokeWidth":12,"xOffset":-8,"yOffset":-6,"y2Offset":6},"encoding":{"y2":{"field":"r2"}}},
{"data":{"values":[{"c":-9,"r":"xcloud","r2":"xdark","t":"skybar"}]},
"mark":{"type":"rule","strokeWidth":12,"xOffset":-8,"yOffset":-2,"y2Offset":10},"encoding":{"y2":{"field":"r2"}}},
{"data":{"values":[{"c":-9,"r":"transp","label":"--- Sky ---","t":"skytext"}]},
"mark":{"type":"text","font":"DejaVu Sans Mono","fontSize":9.5,"angle":270,"align":"center","xOffset":-8},"encoding":{"text":{"field":"label"}}},
{"data":{"values":[{"c":-9,"r":"humid","label":"- Ground -","t":"white"}]},
"mark":{"type":"text","font":"DejaVu Sans Mono","fontSize":9.5,"angle":270,"align":"center","xOffset":-8,"yOffset":-8},"encoding":{"text":{"field":"label"}}},
{"data":{"values":[{"c":-9,"r":"xecmwf","label":"- Sky -","t":"skytext"}]},
"mark":{"type":"text","font":"DejaVu Sans Mono","fontSize":9.5,"angle":270,"align":"center","xOffset":-8,"yOffset":4},"encoding":{"text":{"field":"label"}}},
{"data":{"values":[{"c":-9,"r":"cloud","label":"Cloud Cover:","t":"white"},{"c":-9,"r":"ecmwf","label":"ECMWF Cloud:","t":"white"},{"c":-9,"r":"transp","label":"Transparency:","t":"white"},{"c":-9,"r":"seeing","label":"Seeing:","t":"white"},{"c":-9,"r":"dark","label":"Darkness:","t":"dim"},{"c":-9,"r":"smoke","label":"Smoke:","t":"white"},{"c":-9,"r":"wind","label":"Wind:","t":"white"},{"c":-9,"r":"humid","label":"Humidity:","t":"white"},{"c":-9,"r":"temp","label":"Temperature:","t":"white"}]},
"mark":{"type":"text","yOffset":-2},"encoding":{"text":{"field":"label"}}},
{"data":{"values":[{"c":-9,"r":"xcloud","label":"Cloud Cover:","t":"white"},{"c":-9,"r":"xecmwf","label":"ECMWF Cloud:","t":"white"},{"c":-9,"r":"xdark","label":"Darkness:","t":"dim"}]},
"mark":{"type":"text","yOffset":2},"encoding":{"text":{"field":"label"}}},
{"data":{"values":[{"c":17,"r":"title","label":"Fred Lossing Observatory","t":"Mon"}]},
"mark":{"type":"text","font":"DejaVu Sans Mono","fontSize":20,"fontWeight":"bold","xOffset":-12,"yOffset":-7},"encoding":{"text":{"field":"label"}}},
{"data":{"values":[{"c":43,"r":"title","label":"Clear Sky Chart","t":"cyan"}]},
"mark":{"type":"text","font":"DejaVu Sans Mono","fontSize":20,"fontWeight":"bold","xOffset":-4,"yOffset":-7},"encoding":{"text":{"field":"label"}}},
{"data":{"values":[{"c":-9,"r":"date","label":"2026-08-09","t":"Sun"}]},"mark":{"type":"text","xOffset":-12,"yOffset":-1.5},"encoding":{"text":{"field":"label"}}},
{"data":{"values":[{"c":-9,"r":"tens","label":"Local Time","t":"local"}]},"mark":{"type":"text","xOffset":-12,"yOffset":-1},"encoding":{"text":{"field":"label"}}},
{"data":{"values":[{"c":-9,"r":"units","label":"(GMT -4.0)","t":"local"}]},"mark":{"type":"text","font":"DejaVu Sans Mono","fontSize":8,"fontWeight":"bold","xOffset":-10,"yOffset":-4},"encoding":{"text":{"field":"label"}}},
{"data":{"values":[{"c":0,"r":"date","label":"Sunday, 9","t":"Sun"},{"c":23,"r":"date","label":"Monday, 10","t":"Mon"},{"c":47,"r":"date","label":"Tuesday, 11","t":"Tue"},{"c":71,"r":"date","label":"Wednesday, 12","t":"Wed"}]},
"mark":{"type":"text","xOffset":-5,"yOffset":-1.5},"encoding":{"text":{"field":"label"}}},
{"data":{"name":"hours"},"mark":{"type":"text","align":"center","fontSize":14.4,"yOffset":-1},"encoding":{"y":{"datum":"tens","type":"ordinal"},"text":{"field":"tens"}}},
{"data":{"name":"hours"},"mark":{"type":"text","align":"center","fontSize":14.4,"yOffset":-2.5},"encoding":{"y":{"datum":"units","type":"ordinal"},"text":{"field":"units"}}},
{"data":{"values":[{"c":-9,"r":"note","label":"EXTENDED Forecast. Each block is 3 hours. (A sponsored feature)","t":"line"}]},"mark":{"type":"text","xOffset":-14,"yOffset":0.5},"encoding":{"text":{"field":"label"}}},
{"data":{"values":[{"c":-9,"r":"xdate","label":"2026-08-12","t":"Wed"}]},"mark":{"type":"text","xOffset":-12,"yOffset":2.5},"encoding":{"text":{"field":"label"}}},
{"data":{"values":[{"c":-9,"r":"xtens","label":"Local Time","t":"local"}]},"mark":{"type":"text","xOffset":-12,"yOffset":2.5},"encoding":{"text":{"field":"label"}}},
{"data":{"values":[{"c":-9,"r":"xunits","label":"(GMT -4.0)","t":"local"}]},"mark":{"type":"text","font":"DejaVu Sans Mono","fontSize":8,"fontWeight":"bold","xOffset":-10,"yOffset":0},"encoding":{"text":{"field":"label"}}},
{"data":{"values":[{"c":4,"r":"xdate","label":"Thu, 13","t":"Thu"},{"c":12,"r":"xdate","label":"Fri, 14","t":"Fri"},{"c":20,"r":"xdate","label":"Sat, 15","t":"Sat"},{"c":28,"r":"xdate","label":"Sun, 16","t":"Tue"},{"c":36,"r":"xdate","label":"Mon, 17","t":"Wed"},{"c":44,"r":"xdate","label":"Tue, 18","t":"Thu"}]},
"mark":{"type":"text","xOffset":-11,"yOffset":2.5},"encoding":{"text":{"field":"label"}}},
{"data":{"name":"xhours"},"mark":{"type":"text","align":"center","fontSize":14.4,"yOffset":2.5},"encoding":{"y":{"datum":"xtens","type":"ordinal"},"text":{"field":"tens"}}},
{"data":{"name":"xhours"},"mark":{"type":"text","align":"center","fontSize":14.4,"yOffset":1.5},"encoding":{"y":{"datum":"xunits","type":"ordinal"},"text":{"field":"units"}}},
{"data":{"values":[{"c":14,"r":"foot","label":"© 2026 Attilla Danko\u00a0 forecast: A.Rahill\u00a0 data:","t":"white"}]},"mark":{"type":"text","xOffset":-3,"yOffset":-3.5},"encoding":{"text":{"field":"label"}}},
{"data":{"values":[{"c":46,"c2":58,"r":"foot","t":"white"}]},"mark":{"type":"rule","strokeWidth":15,"yOffset":-3,"x2Offset":-2},"encoding":{"x2":{"field":"c2"}}},
{"data":{"values":[{"c":46,"c2":47,"r":"foot","t":"line"}]},"mark":{"type":"rule","strokeWidth":15,"yOffset":-3,"x2Offset":-6},"encoding":{"x2":{"field":"c2"}}},
{"data":{"values":[{"c":47,"c2":48,"r":"foot","t":"line"}]},"mark":{"type":"rule","strokeWidth":15,"yOffset":-3,"xOffset":5,"x2Offset":-1},"encoding":{"x2":{"field":"c2"}}},
{"data":{"values":[{"c":47,"r":"foot","t":"line"}]},"mark":{"type":"point","filled":true,"opacity":1,"size":121,"xOffset":-0.5,"yOffset":-3,"shape":"M0,-1 L0.2,-0.6 L0.4,-0.7 L0.3,-0.2 L0.8,-0.4 L0.7,-0.1 L0.9,0 L0.45,0.35 L0.5,0.55 L0.05,0.5 L0.05,1 L-0.05,1 L-0.05,0.5 L-0.5,0.55 L-0.45,0.35 L-0.9,0 L-0.7,-0.1 L-0.8,-0.4 L-0.3,-0.2 L-0.4,-0.7 L-0.2,-0.6 Z"}},
{"data":{"values":[{"c":49,"r":"foot","label":"Environment","t":"ink"}]},"mark":{"type":"text","font":"DejaVu Sans Mono","fontSize":7.5,"xOffset":-1,"yOffset":-6},"encoding":{"text":{"field":"label"}}},
{"data":{"values":[{"c":49,"r":"foot","label":"Canada","t":"ink"}]},"mark":{"type":"text","font":"DejaVu Sans Mono","fontSize":7.5,"xOffset":-1,"yOffset":1},"encoding":{"text":{"field":"label"}}},
{"data":{"values":[{"c":54,"r":"foot","label":"Environnement","t":"ink"}]},"mark":{"type":"text","font":"DejaVu Sans Mono","fontSize":7.5,"xOffset":-6,"yOffset":-6},"encoding":{"text":{"field":"label"}}},
{"data":{"values":[{"c":54,"r":"foot","label":"Canada","t":"ink"}]},"mark":{"type":"text","font":"DejaVu Sans Mono","fontSize":7.5,"xOffset":-6,"yOffset":1},"encoding":{"text":{"field":"label"}}}
]
}
